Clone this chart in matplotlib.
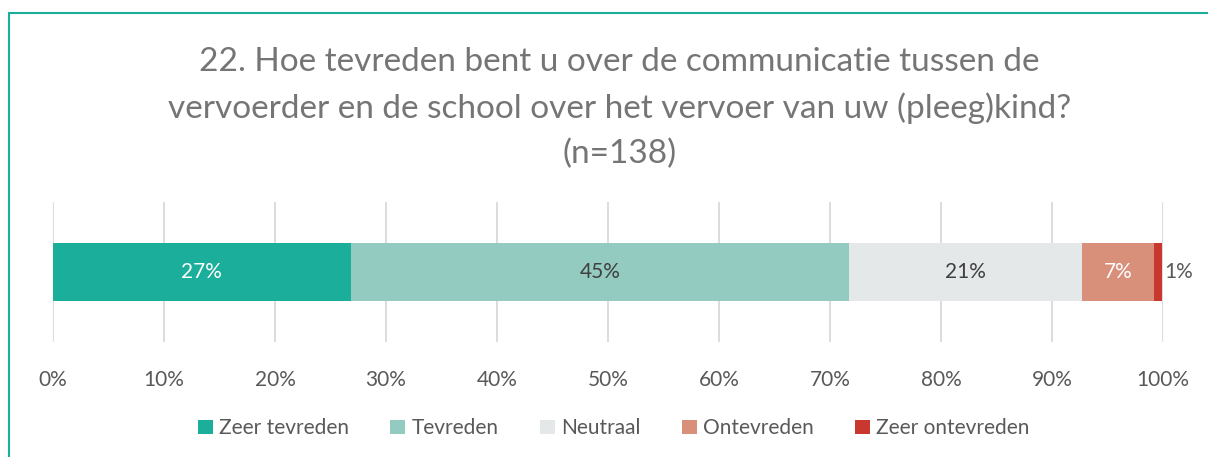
import matplotlib.pyplot as plt
from matplotlib.patches import Rectangle

plt.rcParams['font.family'] = ['Lato', 'DejaVu Sans']

categories = ['Zeer tevreden', 'Tevreden', 'Neutraal', 'Ontevreden', 'Zeer ontevreden']
values = [26.8, 44.9, 21.0, 6.5, 0.7]
labels = ['27%', '45%', '21%', '7%', '1%']
colors = ['#1aae9b', '#93cbc0', '#e4e8e8', '#d9907a', '#c9382f']
label_colors = ['white', '#404040', '#404040', 'white', '#595959']
ticks = list(range(0, 101, 10))

title = ('22. Hoe tevreden bent u over de communicatie tussen de\n'
         'vervoerder en de school over het vervoer van uw (pleeg)kind?\n'
         '(n=138)')

fig = plt.figure(figsize=(12.08, 4.57), dpi=100)
ax = fig.add_axes([0.0439, 0.2516, 0.9189, 0.3063])

left = 0
for cat, val, col, lab, lc in zip(categories, values, colors, labels, label_colors):
    ax.barh(0, val, 0.41, left=left, color=col, label=cat, zorder=3)
    if val < 2:
        ax.text(left + val + 0.2, 0, lab, ha='left', va='center', color=lc, fontsize=15)
    else:
        ax.text(left + val / 2, 0, lab, ha='center', va='center', color=lc, fontsize=15)
    left += val

ax.set_xlim(0, 100)
ax.set_ylim(-0.5, 0.5)
ax.set_xticks(ticks)
ax.set_xticklabels([f'{t}%' for t in ticks])
ax.set_yticks([])
ax.tick_params(axis='x', length=0, pad=20, labelsize=15, labelcolor='#595959')
ax.grid(axis='x', color='#d9d9d9', linewidth=1.3, zorder=0)
for s in ax.spines.values():
    s.set_visible(False)

fig.text(0.513, 0.898, title, ha='center', va='top', fontsize=24,
         color='#757575', linespacing=1.6)

fig.legend(loc='center', bbox_to_anchor=(0.508, 0.063), ncol=5, frameon=False,
           fontsize=15, labelcolor='#595959', handlelength=0.7, handleheight=0.7,
           handletextpad=0.3, columnspacing=2.0)

fig.patches.append(Rectangle((9 / 1208, -0.1), 1.2, 1.1 - 13 / 457,
                             transform=fig.transFigure, fill=False,
                             edgecolor='#1aae9b', linewidth=1.5))

fig.savefig('out.png', dpi=100)
